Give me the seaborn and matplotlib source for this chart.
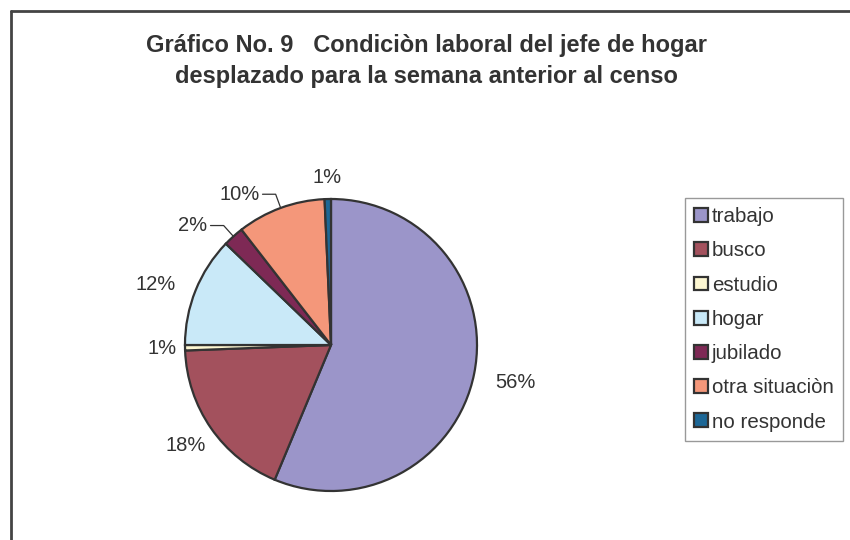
import numpy as np
import matplotlib
matplotlib.use("Agg")
import matplotlib.pyplot as plt
import seaborn as sns
from matplotlib.lines import Line2D

sns.set_theme(style="white")
plt.rcParams['font.family'] = ['Liberation Sans', 'DejaVu Sans']

# data (percent of households)
categories = ["trabajo", "busco", "estudio", "hogar", "jubilado", "otra situaciòn", "no responde"]
shares = [56.3, 18.1, 0.6, 12.2, 2.3, 9.8, 0.7]
pct_labels = ["56%", "18%", "1%", "12%", "2%", "10%", "1%"]

colors = sns.color_palette(["#9b95c9", "#a3515d", "#fdf7d2", "#c9e9f8",
                            "#7e2955", "#f4977a", "#1d6796"])

# label distance from centre (radius units), per slice
label_dist = [1.29, 1.21, 1.16, 1.27, None, None, 1.15]
label_shift = [0, 0, 0, 3, 0, 0, 0]  # small angular nudge, degrees

fig = plt.figure(figsize=(8.5, 5.4), dpi=100)

# pie axes: centre at (331, 345) px, radius 146 px
W, H = 850, 540
cx, cy, r_px = 331, 345, 146
box = 400
ax = fig.add_axes([(cx - box / 2) / W, (H - cy - box / 2) / H, box / W, box / H])
lim = box / 2 / r_px

wedges, _ = ax.pie(shares, colors=colors, startangle=90, counterclock=False,
                   wedgeprops=dict(edgecolor="#333333", linewidth=1.6))
ax.set_xlim(-lim, lim)
ax.set_ylim(-lim, lim)
ax.set_aspect("equal")
ax.axis("off")

for i, w in enumerate(wedges):
    mid = np.deg2rad((w.theta1 + w.theta2) / 2 + label_shift[i])
    ux, uy = np.cos(mid), np.sin(mid)
    if label_dist[i] is not None:
        d = label_dist[i]
        ax.text(d * ux, d * uy, pct_labels[i], ha="center", va="center",
                fontsize=14.5, color="#333333")
    else:
        # small slices get a leader line
        ex, ey = 1.1 * ux, 1.1 * uy
        tx = ex - 0.09
        ax.plot([ux, ex, tx], [uy, ey, ey], color="#333333", lw=0.9)
        ax.text(tx - 0.02, ey, pct_labels[i], ha="right", va="center",
                fontsize=14.5, color="#333333")

fig.text(426 / W, 1 - 61 / H,
         "Gráfico No. 9   Condiciòn laboral del jefe de hogar\n"
         "desplazado para la semana anterior al censo",
         ha="center", va="center", fontsize=17, fontweight="bold",
         color="#333333", linespacing=1.42)

leg = fig.legend(wedges, categories, loc="upper left",
                 bbox_to_anchor=(685 / W, 1 - 198 / H),
                 fontsize=14.8, frameon=True, fancybox=False, shadow=False,
                 handlelength=0.65, handleheight=0.65, handletextpad=0.2,
                 labelspacing=0.74, borderpad=0.45, borderaxespad=0)
leg.get_frame().set_edgecolor("#808080")
leg.get_frame().set_linewidth(1.0)
for t in leg.get_texts():
    t.set_color("#333333")

# outer chart border (top and left visible)
fig.add_artist(Line2D([11 / W, 11 / W], [0, 1 - 11 / H], transform=fig.transFigure,
                      color="#444444", lw=2))
fig.add_artist(Line2D([11 / W, 1], [1 - 11 / H, 1 - 11 / H], transform=fig.transFigure,
                      color="#444444", lw=2))

fig.savefig("out.png", dpi=100)
